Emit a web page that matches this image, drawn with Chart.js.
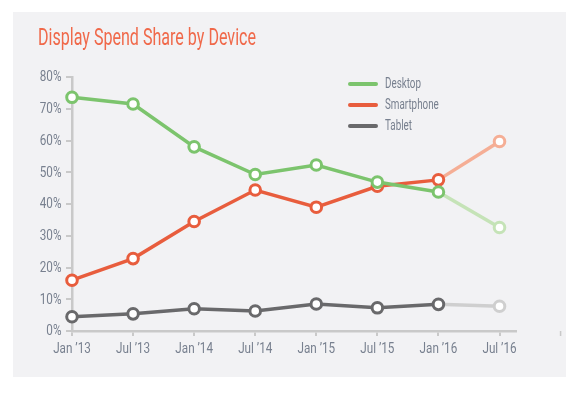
<!DOCTYPE html>
<html>
<head>
<meta charset="utf-8">
<script src="https://cdn.jsdelivr.net/npm/chart.js@4"></script>
<style>
html,body{margin:0;padding:0;background:#ffffff;}
#wrap{position:relative;width:588px;height:394px;}
canvas{display:block;}
</style>
</head>
<body>
<div id="wrap"><canvas id="c" width="588" height="394"></canvas></div>
<script>
const title = 'Display Spend Share by Device';
const categories = ['Jan ’13','Jul ’13','Jan ’14','Jul ’14','Jan ’15','Jul ’15','Jan ’16','Jul ’16'];
const desktop    = [73.6, 71.5, 58.0, 49.3, 52.3, 46.9, 43.8, 32.6];
const smartphone = [16.0, 22.8, 34.5, 44.4, 39.0, 45.6, 47.6, 59.7];
const tablet     = [4.5, 5.4, 7.0, 6.3, 8.5, 7.3, 8.4, 7.8];
const yTicks = [0,10,20,30,40,50,60,70,80];
const seriesNames = ['Desktop','Smartphone','Tablet'];

const FONT = "Roboto,'Noto Sans',sans-serif";
const TEXT = '#78808f';
const AXIS = '#c9c9c9';

const colors = [
  {main:'#7cc46d', light:'#c5e3b7'},
  {main:'#e85d3d', light:'#f5ae95'},
  {main:'#69696b', light:'#cfcfcf'}
];
const lastIdx = categories.length - 1;

function mkDataset(name, values, col){
  return {
    label: name,
    data: values.map((v,i)=>({x:i,y:v})),
    borderColor: col.main,
    borderWidth: 3.5,
    pointRadius: 5.3,
    pointHoverRadius: 5.3,
    pointBorderWidth: 3,
    pointBackgroundColor: '#ffffff',
    pointBorderColor: values.map((v,i)=> i===lastIdx ? col.light : col.main),
    segment: { borderColor: ctx => ctx.p1DataIndex===lastIdx ? col.light : col.main },
    tension: 0,
    clip: false,
    _main: col.main
  };
}

// draw condensed text (horizontal scale) with given alignment
function condText(c, txt, x, y, sx, align){
  const w = c.measureText(txt).width * sx;
  let left = x;
  if (align === 'center') left = x - w/2;
  else if (align === 'right') left = x - w;
  c.save();
  c.translate(left, y);
  c.scale(sx, 1);
  c.textAlign = 'left';
  c.fillText(txt, 0, 0);
  c.restore();
}

const bgPlugin = {
  id:'bg',
  beforeDraw(chart){
    const c = chart.ctx;
    c.save();
    c.fillStyle = '#f2f2f4';
    c.fillRect(13,12,553,365);
    c.restore();
  },
  afterDraw(chart){
    const c = chart.ctx;
    // title
    c.save();
    c.font = "24px " + FONT;
    c.fillStyle = '#f0694a';
    c.textBaseline = 'alphabetic';
    const tw = c.measureText(title).width;
    condText(c, title, 38, 45, 218 / tw, 'left');
    c.restore();

    // axis tick labels
    const xs = chart.scales.x, ys = chart.scales.y;
    c.save();
    c.font = "15px " + FONT;
    c.fillStyle = TEXT;
    c.textBaseline = 'middle';
    const SX = 0.78;
    yTicks.forEach(v=>{
      condText(c, v + '%', 61.5, ys.getPixelForValue(v) + 0.5, SX, 'right');
    });
    categories.forEach((lab,i)=>{
      condText(c, lab, xs.getPixelForValue(i), 349, SX, 'center');
    });
    c.restore();

    // legend
    c.save();
    const rows = [84,105,126];
    c.font = "15px " + FONT;
    const lsx = 36 / c.measureText('Desktop').width;
    chart.data.datasets.forEach((ds,i)=>{
      const y = rows[i];
      c.strokeStyle = ds._main;
      c.lineWidth = 4;
      c.lineCap = 'round';
      c.beginPath(); c.moveTo(350,y); c.lineTo(376,y); c.stroke();
      c.fillStyle = TEXT;
      c.textBaseline = 'middle';
      condText(c, ds.label, 385, y, lsx, 'left');
    });
    c.restore();

    // stray tick beyond axis end
    const px = xs.getPixelForValue(8);
    c.save();
    c.strokeStyle = AXIS; c.lineWidth = 1.5;
    c.beginPath(); c.moveTo(px, xs.top); c.lineTo(px, xs.top+5); c.stroke();
    c.restore();
  }
};

new Chart(document.getElementById('c'), {
  type:'line',
  data:{
    datasets:[
      mkDataset(seriesNames[0], desktop, colors[0]),
      mkDataset(seriesNames[1], smartphone, colors[1]),
      mkDataset(seriesNames[2], tablet, colors[2])
    ]
  },
  options:{
    responsive:false,
    animation:false,
    events:[],
    layout:{padding:{left:0,top:77,right:72,bottom:0}},
    plugins:{legend:{display:false},title:{display:false},tooltip:{enabled:false}},
    scales:{
      x:{
        type:'linear',
        min:0, max:7.27,
        afterFit(s){ s.height = 63; },
        afterBuildTicks(s){ s.ticks = categories.map((c,i)=>({value:i})); },
        ticks:{ display:false, callback:(v)=>categories[v] },
        grid:{drawOnChartArea:false, drawTicks:true, tickLength:5, color:AXIS, lineWidth:2},
        border:{display:true, color:AXIS, width:2.5}
      },
      y:{
        min:0, max:80,
        afterFit(s){ s.width = 72; },
        afterBuildTicks(s){ s.ticks = yTicks.map(v=>({value:v})); },
        ticks:{ display:false, callback:(v)=>v+'%' },
        grid:{drawOnChartArea:false, drawTicks:true, tickLength:6, color:AXIS, lineWidth:2},
        border:{display:true, color:AXIS, width:2.5}
      }
    }
  },
  plugins:[bgPlugin]
});
</script>
</body>
</html>
